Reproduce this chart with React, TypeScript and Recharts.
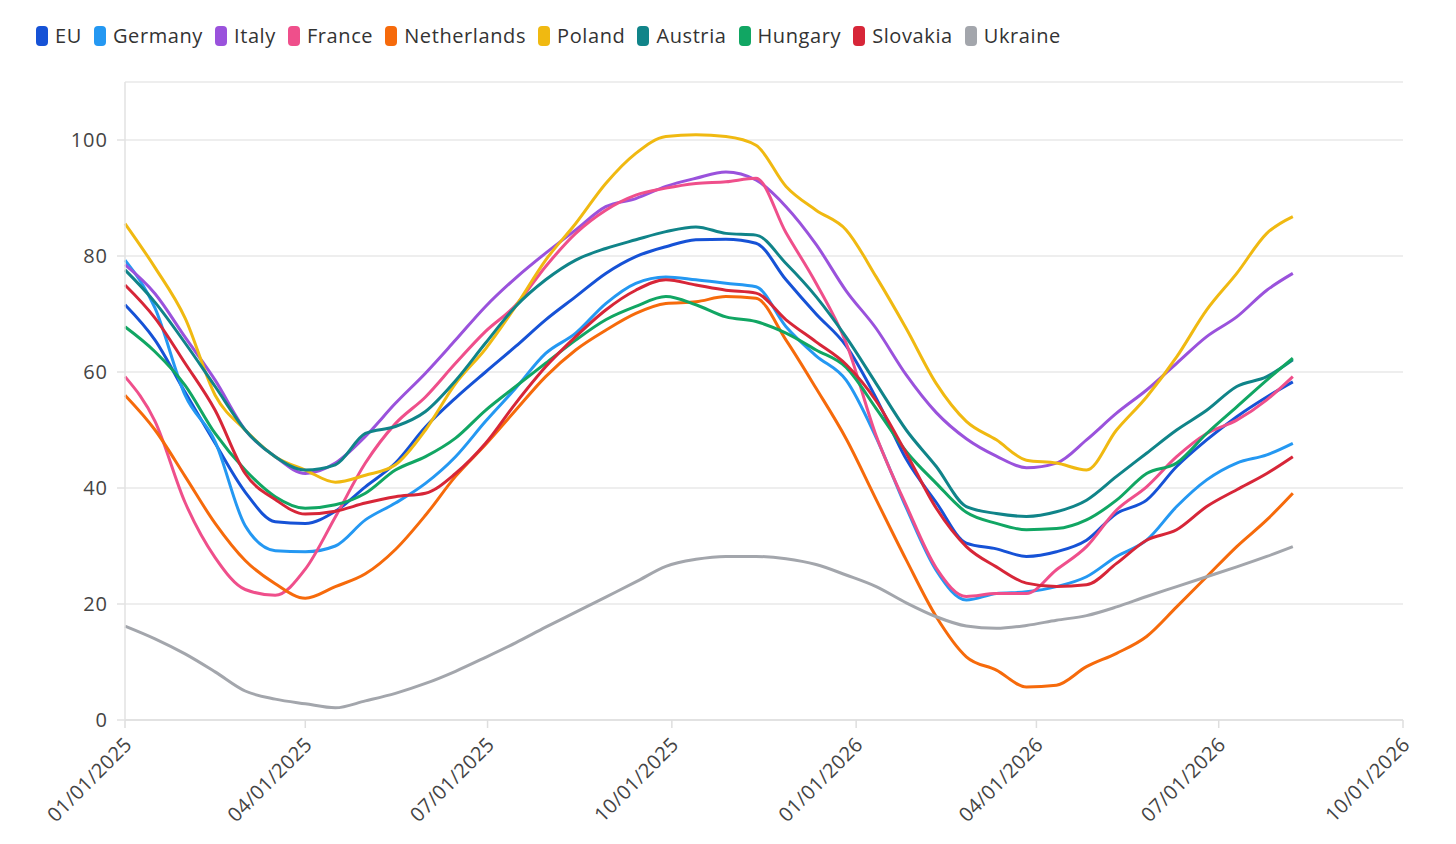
import React from 'react';
import { LineChart, Line, XAxis, YAxis, CartesianGrid } from 'recharts';

// day offsets from 01/01/2025
const days = [0, 15, 30, 45, 60, 75, 90, 105, 120, 135, 150, 165, 180, 195, 210, 225, 240, 255, 270, 285, 300, 315, 330, 345, 360, 375, 390, 405, 420, 435, 450, 465, 480, 495, 510, 525, 540, 555, 570, 583];

const eu = [71.6, 65.5, 56.5, 47.7, 39.3, 34.2, 33.9, 36, 40.2, 44.3, 50.5, 55.5, 60, 64.4, 69, 73, 77, 79.9, 81.6, 82.8, 82.9, 82.2, 75.9, 70, 64.5, 55.5, 45, 37.5, 30.5, 29.5, 28.2, 29, 31, 35.6, 37.9, 43.7, 48.3, 52.3, 55.7, 58.3];
const germany = [79.3, 71, 56, 48, 33.5, 29.2, 29, 30, 34.5, 37.4, 40.8, 45.4, 51.5, 57.2, 63.2, 66.7, 71.8, 75.3, 76.4, 75.9, 75.3, 74.7, 67.8, 62.8, 58.6, 48.7, 36.6, 25.8, 20.7, 21.8, 22.1, 23, 24.7, 28.2, 31, 36.8, 41.4, 44.3, 45.7, 47.7];
const italy = [78.5, 73.5, 66, 58.6, 50, 45.4, 42.5, 44.3, 48.9, 54.6, 59.8, 65.5, 71.3, 76.2, 80.5, 84.5, 88.5, 89.9, 92, 93.4, 94.5, 93.1, 88.5, 82, 74, 67.5, 59.5, 53, 48.5, 45.5, 43.5, 44.3, 48.3, 52.9, 56.9, 61.5, 66.1, 69.5, 74.1, 77];
const france = [59.2, 51.5, 37.5, 28, 22.5, 21.5, 26, 35, 44.3, 51.1, 55.7, 61.5, 67, 71.5, 78.2, 83.9, 87.9, 90.5, 91.7, 92.5, 92.8, 93.4, 84, 75.3, 65, 49, 37, 26.2, 21.3, 21.8, 21.8, 25.9, 29.9, 36.2, 40.2, 45.4, 49.4, 51.7, 55.2, 59.2];
const netherlands = [56, 50, 42, 33.9, 27.5, 23.5, 21, 23, 25.2, 29.4, 35.3, 42, 47.5, 53.4, 59.2, 63.8, 67.2, 70.1, 71.8, 72.1, 73, 72.7, 65.5, 57.2, 48.5, 38, 27.6, 17.8, 10.9, 8.6, 5.7, 6, 9.2, 11.5, 14.4, 19.5, 24.7, 29.9, 34.5, 39.1];
const poland = [85.6, 78, 69.3, 56, 50, 45.4, 43.1, 41, 42.2, 44, 50, 58, 64, 71.3, 79.3, 85.6, 92.5, 97.7, 100.6, 100.9, 100.6, 99.1, 92, 87.9, 84.5, 76.4, 67.5, 58, 51.5, 48.3, 44.8, 44.3, 43.1, 50, 55.7, 62.6, 70.7, 77, 83.9, 86.8];
const austria = [77.6, 72, 65, 57.5, 50, 45.4, 43.1, 44, 49.4, 50.6, 53.2, 58.5, 65, 71.3, 75.9, 79.3, 81.3, 82.8, 84.2, 85, 83.9, 83.6, 78.7, 73, 66, 58, 50, 43.7, 36.8, 35.6, 35.1, 35.9, 37.9, 42, 46, 50, 53.4, 57.5, 59.2, 62.1];
const hungary = [67.8, 63.5, 57.7, 49.4, 43.1, 38.5, 36.5, 37.1, 39.1, 43.1, 45.4, 48.6, 53.4, 57.5, 61.5, 65.5, 69, 71.3, 73, 71.6, 69.5, 68.7, 66.7, 63.8, 60.8, 53.7, 46.3, 40.8, 35.8, 33.9, 32.8, 33, 34.5, 37.9, 42.5, 44.3, 49.4, 54, 58.6, 62.4];
const slovakia = [75, 69.3, 61.5, 53.4, 42.5, 38, 35.5, 36, 37.4, 38.5, 39.1, 42.5, 47.7, 54.6, 60.9, 66.1, 70.7, 74.1, 75.9, 75, 74.1, 73.6, 69, 65.2, 61.3, 55, 46, 36.5, 29.9, 26.4, 23.6, 23, 23.3, 27, 31, 32.8, 36.8, 39.7, 42.5, 45.4];
const ukraine = [16.2, 14, 11.4, 8.3, 5, 3.6, 2.8, 2.1, 3.3, 4.6, 6.3, 8.4, 10.8, 13.3, 16, 18.6, 21.2, 23.8, 26.5, 27.7, 28.2, 28.2, 27.8, 26.8, 25, 23, 20.2, 17.8, 16.2, 15.8, 16.3, 17.2, 18, 19.5, 21.3, 23, 24.7, 26.4, 28.2, 29.9];

const xTicks = [0, 90, 181, 273, 365, 455, 546, 638];
const xTickLabels = ['01/01/2025', '04/01/2025', '07/01/2025', '10/01/2025', '01/01/2026', '04/01/2026', '07/01/2026', '10/01/2026'];
const yTicks = [0, 20, 40, 60, 80, 100];

const seriesDefs = [
  { key: 'EU', color: '#1652d6', values: eu },
  { key: 'Germany', color: '#2498f2', values: germany },
  { key: 'Italy', color: '#9a52dc', values: italy },
  { key: 'France', color: '#ef4f8b', values: france },
  { key: 'Netherlands', color: '#f66a0b', values: netherlands },
  { key: 'Poland', color: '#f0b911', values: poland },
  { key: 'Austria', color: '#108489', values: austria },
  { key: 'Hungary', color: '#11a663', values: hungary },
  { key: 'Slovakia', color: '#d72638', values: slovakia },
  { key: 'Ukraine', color: '#a3a6ac', values: ukraine },
];

const data = days.map((d, i) => {
  const row: Record<string, number> = { day: d };
  seriesDefs.forEach((s) => {
    row[s.key] = s.values[i];
  });
  return row;
});

const FONT = '"Open Sans", sans-serif';

const XTick = (props: any) => {
  const { x, y, payload } = props;
  const idx = xTicks.indexOf(payload.value);
  const label = idx >= 0 ? xTickLabels[idx] : '';
  const ax = x + 8;
  const ay = y + 16;
  return (
    <text
      x={ax}
      y={ay}
      textAnchor="end"
      fill="#444"
      fontSize={20}
      fontFamily={FONT}
      letterSpacing={0.3}
      transform={`rotate(-45, ${ax}, ${ay})`}
    >
      {label}
    </text>
  );
};

export default function App() {
  return (
    <div style={{ position: 'relative', width: 1440, height: 828, background: '#fff' }}>
      <div
        style={{
          position: 'absolute',
          left: 28,
          top: 18,
          height: 20,
          display: 'flex',
          alignItems: 'center',
          fontFamily: FONT,
          fontSize: 20,
          letterSpacing: 0.6,
          color: '#333',
          whiteSpace: 'nowrap',
        }}
      >
        {seriesDefs.map((s) => (
          <div key={s.key} style={{ display: 'flex', alignItems: 'center', marginRight: 12 }}>
            <div style={{ width: 12, height: 20, borderRadius: 4, background: s.color, marginRight: 7 }} />
            <span style={{ lineHeight: '20px' }}>{s.key}</span>
          </div>
        ))}
      </div>
      <LineChart
        width={1440}
        height={828}
        data={data}
        margin={{ top: 74, right: 45, bottom: 16, left: 0 }}
      >
        <CartesianGrid vertical={false} stroke="#e8e8e8" strokeWidth={1.5} />
        <XAxis
          dataKey="day"
          type="number"
          domain={[0, 638]}
          ticks={xTicks}
          interval={0}
          height={100}
          tick={<XTick />}
          tickSize={8}
          axisLine={{ stroke: '#dedede', strokeWidth: 1.5 }}
          tickLine={{ stroke: '#dedede', strokeWidth: 1.5 }}
        />
        <YAxis
          type="number"
          domain={[0, 110]}
          ticks={yTicks}
          interval={0}
          width={117}
          tickSize={8}
          tickMargin={9}
          tick={{ fill: '#444', fontSize: 20, fontFamily: FONT, letterSpacing: 1 }}
          axisLine={{ stroke: '#e2e2e2', strokeWidth: 1.5 }}
          tickLine={{ stroke: '#e2e2e2', strokeWidth: 1.5 }}
        />
        {seriesDefs.map((s) => (
          <Line
            key={s.key}
            dataKey={s.key}
            type="monotone"
            stroke={s.color}
            strokeWidth={3}
            dot={false}
            activeDot={false}
            isAnimationActive={false}
          />
        ))}
      </LineChart>
    </div>
  );
}
